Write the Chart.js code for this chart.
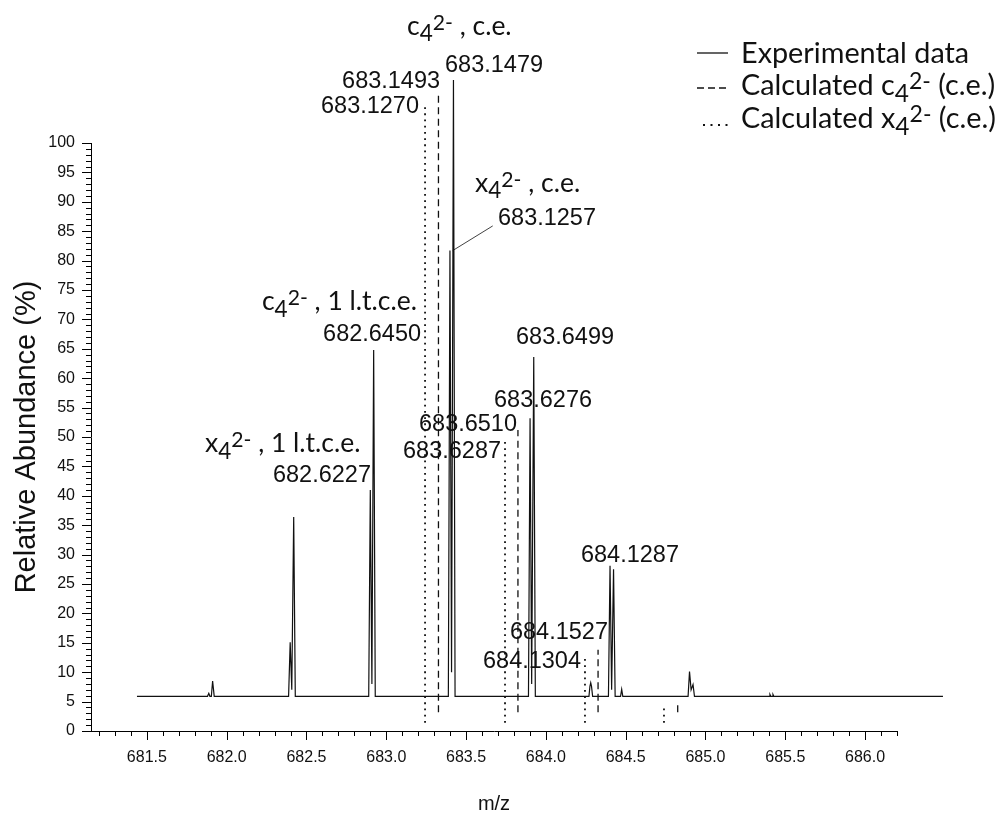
<!DOCTYPE html>
<html>
<head>
<meta charset="utf-8">
<script src="https://cdn.jsdelivr.net/npm/chart.js@4.4.1/dist/chart.umd.min.js"></script>
<style>
  html,body{margin:0;padding:0;background:#fff}
  #wrap{width:995px;height:816px;position:relative}
</style>
</head>
<body>
<div id="wrap"><canvas id="ms" width="995" height="816"></canvas></div>
<script>
// ---- experimental spectrum (plotted m/z, relative abundance %)
const expMz = [681.438,
  681.880, 681.888, 681.895, 681.904, 681.912, 681.922,
  682.388, 682.398, 682.408, 682.420, 682.430,
  682.890, 682.900, 682.910, 682.921, 682.931,
  683.389, 683.399, 683.409, 683.421, 683.431,
  683.891, 683.901, 683.911, 683.924, 683.934,
  684.270, 684.276, 684.281, 684.286, 684.293,
  684.392, 684.402, 684.412, 684.424, 684.434,
  684.468, 684.475, 684.482,
  684.891, 684.900, 684.910, 684.922, 684.931,
  685.400, 685.404, 685.409, 685.418, 685.423, 685.428,
  686.488];
const expAbund = [5.9,
  5.9, 6.4, 5.9, 5.9, 8.5, 5.9,
  5.9, 15.1, 7.0, 36.4, 5.9,
  5.9, 41.0, 8.0, 64.8, 5.9,
  5.9, 81.7, 10.0, 110.7, 5.9,
  5.9, 53.2, 8.0, 63.6, 5.9,
  5.9, 7.6, 8.2, 7.6, 5.9,
  5.9, 28.1, 7.0, 27.5, 5.9,
  5.9, 7.1, 5.9,
  5.9, 10.1, 7.0, 7.9, 5.9,
  5.9, 6.2, 5.9, 5.9, 6.2, 5.9,
  5.9];

// ---- calculated isotope sticks
const calcXMz    = [683.243, 683.744, 684.245, 684.740];
const calcXAbund = [106.1, 49.5, 12.6, 4.1];
const calcXFoot  = 1.4;
const calcCMz    = [683.327, 683.825, 684.327, 684.826];
const calcCAbund = [108.5, 51.2, 13.8, 4.4];
const calcCFoot  = 3.2;

// ---- axes
const xTickLabels = ['681.5','682.0','682.5','683.0','683.5','684.0','684.5','685.0','685.5','686.0'];
const yTickLabels = ['0','5','10','15','20','25','30','35','40','45','50','55','60','65','70','75','80','85','90','95','100'];

// ---- peak annotations: text, anchor [m/z, %] of the baseline-left corner
const peakLabels = [
  ['683.1479', 683.368, 112.1],
  ['683.1493', 682.723, 109.4],
  ['683.1270', 682.591, 105.1],
  ['683.1257', 683.700, 86.05],
  ['682.6450', 682.604, 66.3],
  ['682.6227', 682.290, 42.35],
  ['683.6499', 683.813, 65.8],
  ['683.6276', 683.675, 55.1],
  ['683.6510', 683.205, 51.0],
  ['683.6287', 683.105, 46.4],
  ['684.1287', 684.220, 28.7],
  ['684.1527', 683.775, 15.6],
  ['684.1304', 683.606, 10.7]
];
// {sub} and [sup]
const ionLabels = [
  ['c{4}[2-] , c.e.',        683.130, 118.4],
  ['x{4}[2-] , c.e.',        683.556, 91.7],
  ['c{4}[2-] , 1 l.t.c.e.',  682.221, 71.6],
  ['x{4}[2-] , 1 l.t.c.e.',  681.864, 47.4]
];
const leader = [[683.667, 85.9], [683.416, 81.7]];

const legendItems = [
  {text:'Experimental data',          dash:[]},
  {text:'Calculated c{4}[2-] (c.e.)', dash:[7,4]},
  {text:'Calculated x{4}[2-] (c.e.)', dash:[2,5.5]}
];

const NUM_FONT = '"Liberation Sans", Arial, sans-serif';
const ION_FONT = 'Lato, "Open Sans", sans-serif';

function runsOf(s){
  const out=[]; const re=/\{([^}]*)\}|\[([^\]]*)\]|([^{\[]+)/g; let m;
  while((m=re.exec(s))){
    if(m[1]!=null) out.push({t:m[1],k:'sub'});
    else if(m[2]!=null) out.push({t:m[2],k:'sup'});
    else out.push({t:m[3],k:''});
  }
  return out;
}
function drawRich(ctx, s, x, y, size, family){
  let cx=x;
  runsOf(s).forEach(r=>{
    const f = r.k==='sub'?0.85:(r.k==='sup'?0.8:1);
    const dy = r.k==='sub'?0.25*size:(r.k==='sup'?-0.2*size:0);
    ctx.font = `${size*f}px ${family}`;
    ctx.fillText(r.t, cx, y+dy);
    cx += ctx.measureText(r.t).width;
  });
}

const sticks = (mz, ab, foot) => {
  const pts=[];
  mz.forEach((m,i)=>{ pts.push({x:m,y:foot}); pts.push({x:m,y:ab[i]}); pts.push({x:m,y:null}); });
  return pts;
};

const tickMarks = {
  id:'tickMarks',
  afterDraw(chart){
    const {ctx, scales:{x,y}, chartArea:a} = chart;
    ctx.save(); ctx.strokeStyle='#000'; ctx.lineWidth=1; ctx.beginPath();
    x.ticks.forEach(t=>{
      const px=Math.round(x.getPixelForValue(t.value))+0.5, len=t.label?9:5;
      ctx.moveTo(px,a.bottom); ctx.lineTo(px,a.bottom+len);
    });
    y.ticks.forEach(t=>{
      const py=Math.round(y.getPixelForValue(t.value))+0.5, len=t.label?9:5;
      ctx.moveTo(a.left,py); ctx.lineTo(a.left-len,py);
    });
    ctx.stroke(); ctx.restore();
  }
};

const annotations = {
  id:'annotations',
  afterDatasetsDraw(chart){
    const {ctx, scales:{x,y}} = chart;
    ctx.save();
    ctx.fillStyle='#111'; ctx.textAlign='left'; ctx.textBaseline='alphabetic';
    ctx.font = `23.5px ${NUM_FONT}`;
    peakLabels.forEach(([t,m,v])=> ctx.fillText(t, x.getPixelForValue(m), y.getPixelForValue(v)));
    ionLabels.forEach(([t,m,v])=> drawRich(ctx, t, x.getPixelForValue(m), y.getPixelForValue(v), 26.5, ION_FONT));
    ctx.strokeStyle='#111'; ctx.lineWidth=0.8; ctx.beginPath();
    ctx.moveTo(x.getPixelForValue(leader[0][0]), y.getPixelForValue(leader[0][1]));
    ctx.lineTo(x.getPixelForValue(leader[1][0]), y.getPixelForValue(leader[1][1]));
    ctx.stroke();
    // legend
    const rows=[53,88,125], base=[63,95,128];
    legendItems.forEach((it,i)=>{
      ctx.beginPath(); ctx.lineWidth=i===2?1.8:1.3; ctx.setLineDash(it.dash);
      ctx.moveTo(i===2?703:697, rows[i]); ctx.lineTo(728, rows[i]); ctx.stroke();
      ctx.setLineDash([]);
      drawRich(ctx, it.text, 741, base[i], 28.8, ION_FONT);
    });
    ctx.restore();
  }
};

const xMinor=[]; for(let k=0;k<=50;k++) xMinor.push(+(681.2+k*0.1).toFixed(1));
const yMinor=[]; for(let k=0;k<=100;k++) yMinor.push(k);

new Chart(document.getElementById('ms'), {
  type:'line',
  data:{
    datasets:[
      {label:'Experimental data', data:expMz.map((m,i)=>({x:m,y:expAbund[i]})),
       borderColor:'#111', borderWidth:1.2, pointRadius:0, tension:0, clip:false},
      {label:'Calculated c4 2- (c.e.)', data:sticks(calcCMz,calcCAbund,calcCFoot),
       borderColor:'#111', borderWidth:1.3, borderDash:[7,4.5], pointRadius:0, clip:false, spanGaps:false},
      {label:'Calculated x4 2- (c.e.)', data:sticks(calcXMz,calcXAbund,calcXFoot),
       borderColor:'#111', borderWidth:1.8, borderDash:[1.8,4.4], pointRadius:0, clip:false, spanGaps:false}
    ]
  },
  options:{
    responsive:false, animation:false, devicePixelRatio:1,
    layout:{padding:{left:0,right:98,top:143,bottom:0}},
    plugins:{legend:{display:false}, tooltip:{enabled:false}},
    scales:{
      x:{type:'linear', min:681.15, max:686.2,
        afterBuildTicks:s=>{ s.ticks = xMinor.map(v=>({value:v})); },
        afterFit:s=>{ s.height = 85; },
        grid:{display:false, drawTicks:false},
        border:{display:true, color:'#000', width:1},
        ticks:{autoSkip:false, maxRotation:0, minRotation:0, padding:17, color:'#111',
          font:{family:NUM_FONT, size:16},
          callback:v=>{ const s=(+v).toFixed(1); return xTickLabels.includes(s)?s:''; }},
        title:{display:true, text:'m/z', color:'#111', font:{family:NUM_FONT, size:20}, padding:{top:0,bottom:0}}
      },
      y:{type:'linear', min:0, max:100,
        afterBuildTicks:s=>{ s.ticks = yMinor.map(v=>({value:v})); },
        afterFit:s=>{ s.width = 91; },
        grid:{display:false, drawTicks:false},
        border:{display:true, color:'#000', width:1},
        ticks:{autoSkip:false, padding:16, color:'#111', font:{family:NUM_FONT, size:16},
          callback:v=>{ const s=String(Math.round(v)); return yTickLabels.includes(s)?s:''; }},
        title:{display:true, text:'Relative Abundance (%)', color:'#111', font:{family:NUM_FONT, size:29}, padding:{top:10,bottom:0}}
      }
    }
  },
  plugins:[tickMarks, annotations]
});
</script>
</body>
</html>
